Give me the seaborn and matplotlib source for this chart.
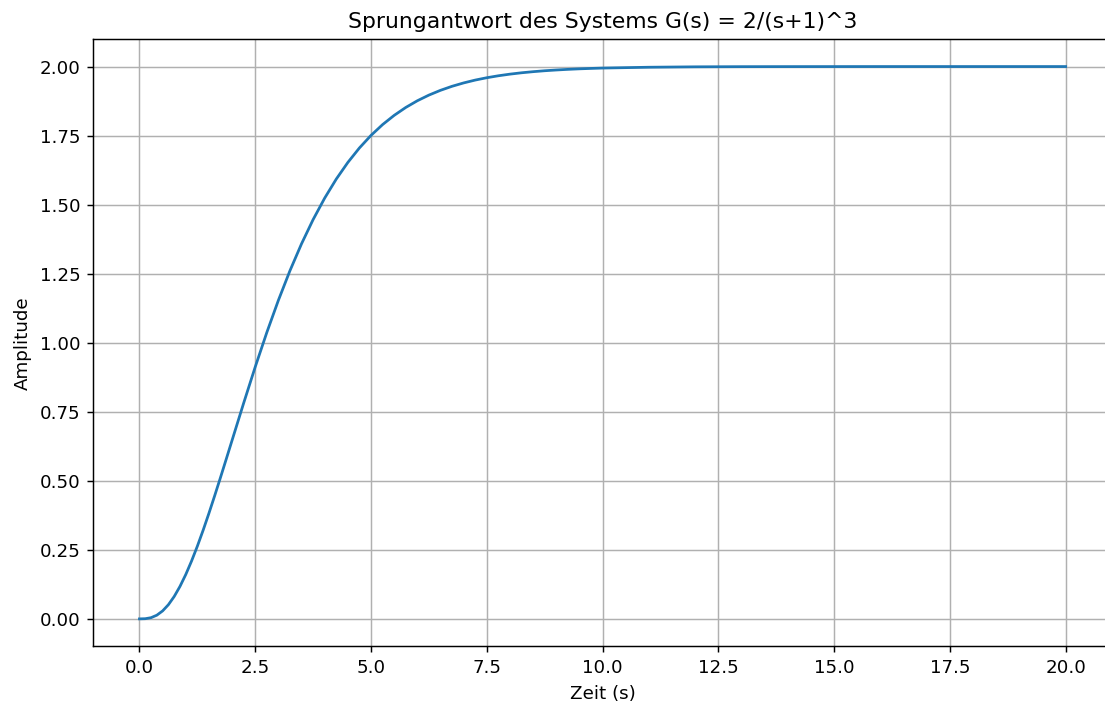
import matplotlib
matplotlib.use("Agg")
import matplotlib.pyplot as plt
import seaborn as sns
import pandas as pd

# Step response samples of G(s) = 2/(s+1)^3
zeit = [0.0, 0.125, 0.25, 0.375, 0.5, 0.625, 0.75, 0.875, 1.0, 1.125, 1.25,
        1.375, 1.5, 1.625, 1.75, 1.875, 2.0, 2.25, 2.5, 2.75,
        3.0, 3.25, 3.5, 3.75, 4.0, 4.25, 4.5, 4.75, 5.0, 5.25, 5.5, 5.75,
        6.0, 6.25, 6.5, 6.75, 7.0, 7.25, 7.5, 7.75, 8.0, 8.25, 8.5, 8.75,
        9.0, 9.25, 9.5, 9.75, 10.0, 11.0, 12.0, 13.0, 14.0, 15.0,
        16.0, 17.0, 18.0, 19.0, 20.0]
amplitude = [0.0, 0.0006, 0.0043, 0.0133, 0.0288, 0.0513, 0.0810, 0.1176,
             0.1606, 0.2094, 0.2631, 0.3210, 0.3823, 0.4463, 0.5121, 0.5791,
             0.6466, 0.7813, 0.9124, 1.0371, 1.1536, 1.2609, 1.3583, 1.4459,
             1.5238, 1.5926, 1.6528, 1.7053, 1.7507, 1.7898, 1.8232, 1.8518,
             1.8761, 1.8966, 1.9139, 1.9285, 1.9407, 1.9510, 1.9595, 1.9666,
             1.9725, 1.9774, 1.9814, 1.9848, 1.9875, 1.9898, 1.9917, 1.9932,
             1.9945, 1.9975, 1.9990, 1.9996, 1.9998, 1.9999, 2.0, 2.0, 2.0,
             2.0, 2.0]

df = pd.DataFrame({"Zeit": zeit, "Amplitude": amplitude})

dpi = 131.5
fig = plt.figure(figsize=(1105 / dpi, 704 / dpi), dpi=dpi)
ax = fig.add_axes([0.0843, 0.0817, 0.922, 0.863])

sns.lineplot(data=df, x="Zeit", y="Amplitude", ax=ax, color="#1f77b4",
             linewidth=1.5)

ax.set_xlim(-1.0, 21.0)
ax.set_ylim(-0.1, 2.1)
ax.set_xticks([0, 2.5, 5, 7.5, 10, 12.5, 15, 17.5, 20])
ax.set_yticks([0, 0.25, 0.5, 0.75, 1.0, 1.25, 1.5, 1.75, 2.0])
ax.xaxis.set_major_formatter(matplotlib.ticker.FormatStrFormatter("%.1f"))
ax.yaxis.set_major_formatter(matplotlib.ticker.FormatStrFormatter("%.2f"))
ax.grid(True, color="#b0b0b0", linewidth=0.8)
ax.set_axisbelow(True)
ax.spines["right"].set_visible(False)

ax.set_title("Sprungantwort des Systems G(s) = 2/(s+1)^3", fontsize=12)
ax.set_xlabel("Zeit (s)")
ax.set_ylabel("Amplitude")

fig.savefig("out.png", dpi=dpi)
